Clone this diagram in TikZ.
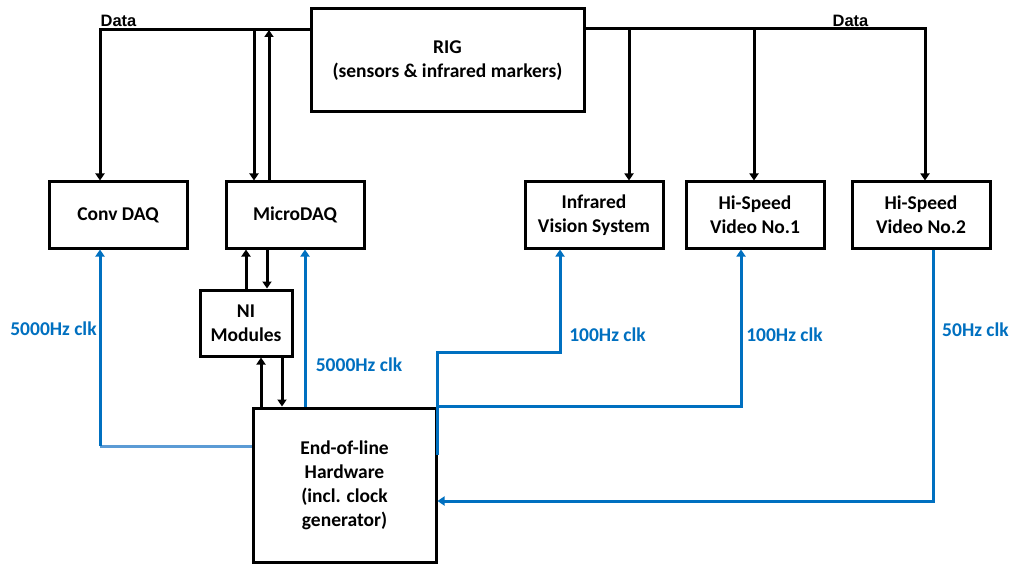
\documentclass[tikz,border=0pt]{standalone}
\usepackage{fontspec}
\setmainfont{Carlito}
\newfontfamily\datafont{Liberation Sans}
\usetikzlibrary{arrows.meta}
\definecolor{clkblue}{HTML}{0070C0}
\definecolor{clklight}{HTML}{5B9BD5}
\tikzset{
  box/.style={draw=black, line width=3pt, fill=white, inner sep=0pt, align=center,
    font=\fontsize{19.5}{24}\selectfont\bfseries},
  arr/.style={draw=black, line width=3pt, -{Triangle[length=7pt,width=9pt]}},
  clk/.style={draw=clkblue, line width=3pt, -{Triangle[length=7pt,width=9pt]}},
  clklight/.style={draw=clklight, line width=3pt},
  clklabel/.style={text=clkblue, inner sep=0pt, font=\fontsize{19.5}{24}\selectfont\bfseries},
  datalabel/.style={inner sep=0pt, font=\fontsize{16.5}{20}\selectfont\datafont\bfseries}
}
\begin{document}
\begin{tikzpicture}[x=1pt,y=-1pt]
\useasboundingbox[fill=white] (0,0) rectangle (1011,564);

% nodes
\node[box, minimum width=273pt, minimum height=103pt] (rig) at (447.5,60.5) {RIG\\(sensors \& infrared markers)};
\node[box, minimum width=138pt, minimum height=66pt] (conv) at (118,215) {Conv DAQ};
\node[box, minimum width=138pt, minimum height=66pt] (micro) at (295,215) {MicroDAQ};
\node[box, minimum width=138pt, minimum height=66pt] (ir) at (594,215) {Infrared\\Vision System};
\node[box, minimum width=138pt, minimum height=66pt] (hs1) at (755,215) {Hi-Speed\\Video No.1};
\node[box, minimum width=138pt, minimum height=66pt] (hs2) at (921,215) {Hi-Speed\\Video No.2};
\node[box, minimum width=92pt, minimum height=66pt] (ni) at (246,323) {NI\\Modules};
\node[box, minimum width=183pt, minimum height=154pt] (eol) at (344.5,485) {End-of-line\\Hardware\\(incl. clock\\generator)};

% labels
\node[datalabel] (d1) at (118.5,21) {Data};
\node[datalabel] (d2) at (850.5,21) {Data};
\node[clklabel] (c1) at (53.5,329) {5000Hz clk};
\node[clklabel] (c2) at (359,365) {5000Hz clk};
\node[clklabel] (c3) at (607.5,335) {100Hz clk};
\node[clklabel] (c4) at (784.5,335) {100Hz clk};
\node[clklabel] (c5) at (975.5,330) {50Hz clk};

% data connectors (left)
\draw[arr] (rig.west |- 0,30) -| (100,0 |- conv.north);
\draw[arr] (254,30) -- (254,0 |- micro.north);
\draw[arr] (269,0 |- micro.north) -- (269,30);

% data connectors (right)
\draw[arr] (rig.east |- 0,29) -| (925,0 |- hs2.north);
\draw[arr] (629,29) -- (629,0 |- ir.north);
\draw[arr] (754,29) -- (754,0 |- hs1.north);

% NI module connectors
\draw[arr] (246,0 |- ni.north) -- (246,0 |- micro.south);
\draw[arr] (267,0 |- micro.south) -- (267,0 |- ni.north);
\draw[arr] (261,0 |- eol.north) -- (261,0 |- ni.south);
\draw[arr] (282,0 |- ni.south) -- (282,0 |- eol.north);

% clock connectors
\draw[clklight] (eol.west |- 0,446) -- (100,446);
\draw[clk] (100,446) -- (100,0 |- conv.south);
\draw[clk] (305,0 |- eol.north) -- (305,0 |- micro.south);
\draw[clk] (eol.east |- 0,455) |- (560,352) -- (560,0 |- ir.south);
\draw[clk] (eol.east |- 0,406) -| (741,0 |- hs1.south);
\draw[clk] (933,0 |- hs2.south) |- (eol.east |- 0,501);
\end{tikzpicture}
\end{document}
